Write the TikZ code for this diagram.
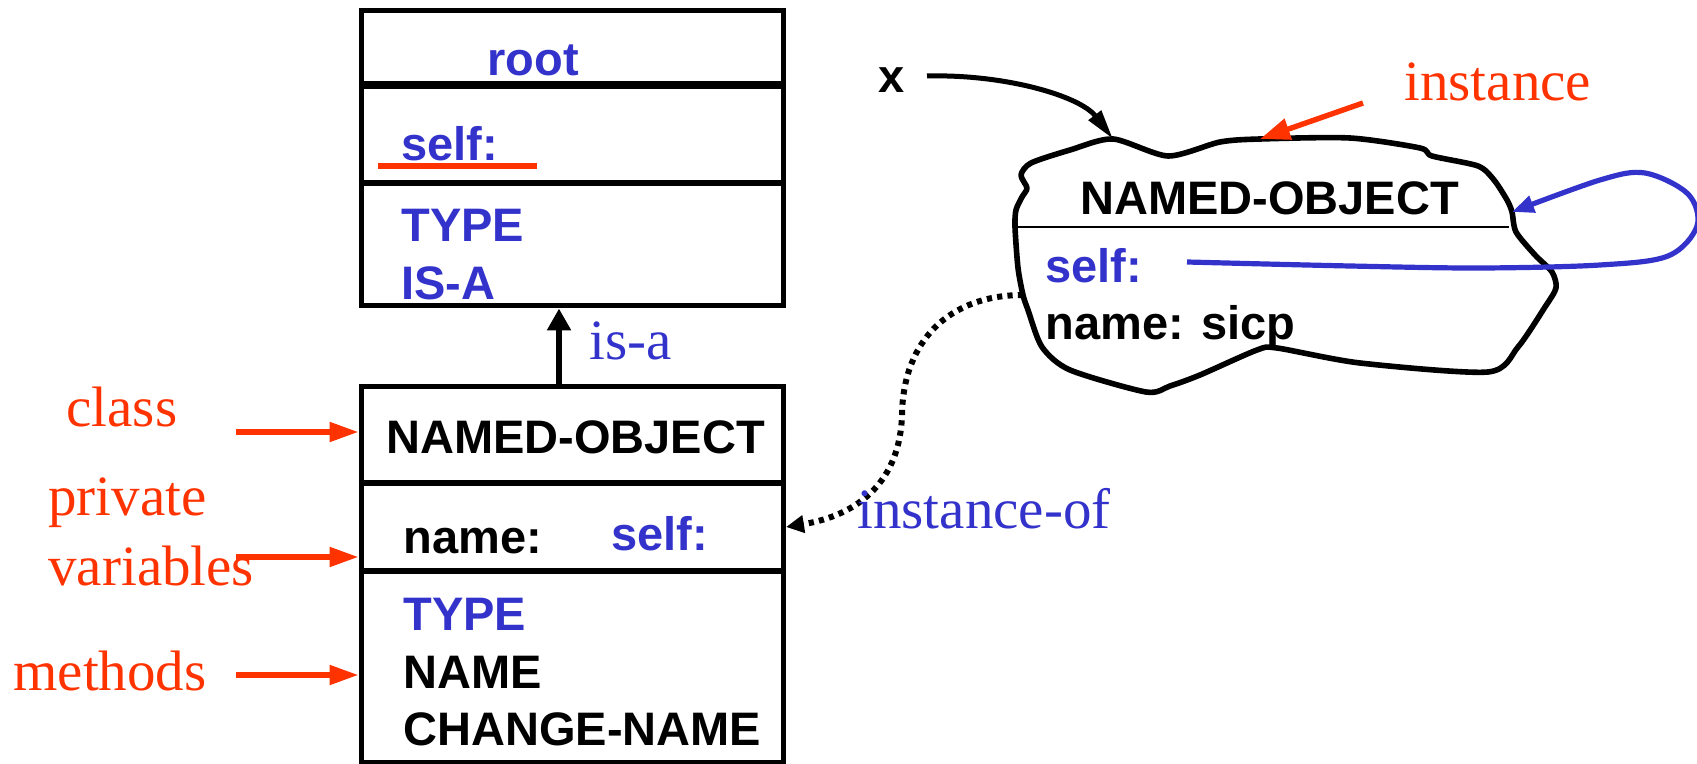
\documentclass[tikz,border=0pt]{standalone}
\usepackage{fontspec}
\setmainfont{Liberation Serif}
\newfontfamily\hv{Liberation Sans}
\usetikzlibrary{arrows.meta,fit}
\definecolor{ink}{RGB}{51,51,204}
\definecolor{notered}{RGB}{255,51,0}
\begin{document}
\begin{tikzpicture}[x=0.5pt,y=-0.5pt,
  word/.style={anchor=base west, inner sep=0pt, font=\hv\bfseries\fontsize{23.5pt}{28pt}\selectfont},
  blueword/.style={word, text=ink},
  redlbl/.style={anchor=base west, inner sep=0pt, text=notered, font=\fontsize{28.5pt}{34pt}\selectfont},
  bluelbl/.style={redlbl, text=ink},
  frame/.style={draw, line width=2.5pt, inner sep=0pt},
  redarrow/.style={draw=notered, line width=2.6pt, -{Triangle[length=14.5pt,width=9.5pt]}},
  blackarrow/.style={draw, line width=2.5pt, -{Triangle[length=15pt,width=7.5pt]}},
  blob/.style={draw, line width=2.8pt, line join=round}
]
\useasboundingbox (0,0) rectangle (1697,764);

% ---------- root class box ----------
\coordinate (r1) at (361,11);
\coordinate (r2) at (783,306);
\node[frame, fit=(r1)(r2)] (rootbox) {};
\draw[line width=4pt] (rootbox.west |- 0,85) -- (rootbox.east |- 0,85);
\draw[line width=2.6pt] (rootbox.west |- 0,183) -- (rootbox.east |- 0,183);
\node[blueword, anchor=base] (rootname) at (533,76) {root};
\node[blueword] (rootself) at (401,161) {self:};
\draw[notered, line width=3pt] (378,166) -- (537,166);
\node[blueword] (roottype) at (401,242) {TYPE};
\node[blueword] (rootisa) at (401,300) {IS-A};

% ---------- NAMED-OBJECT class box ----------
\coordinate (n1) at (361,387);
\coordinate (n2) at (783,762);
\node[frame, fit=(n1)(n2)] (lowbox) {};
\draw[line width=3.4pt] (lowbox.west |- 0,483) -- (lowbox.east |- 0,483);
\draw[line width=3.4pt] (lowbox.west |- 0,571) -- (lowbox.east |- 0,571);
\node[word] (clsname) at (386,453) {NAMED-OBJECT};
\node[word] (clsvar) at (403,553) {name:};
\node[blueword] (clsself) at (611,550) {self:};
\node[blueword] (clstype) at (403,630) {TYPE};
\node[word] (clsnm) at (403,688) {NAME};
\node[word] (clschg) at (403,745) {CHANGE-NAME};

% is-a link
\coordinate (isax) at (559,0);
\draw[line width=3.2pt, -{Triangle[length=11pt,width=11.5pt]}]
  (isax |- lowbox.north) -- (isax |- rootbox.south);
\node[bluelbl] (isalbl) at (589,360) {is-a};

% ---------- annotations on the left ----------
\node[redlbl] (classlbl) at (66,427) {class};
\node[redlbl] (privlbl) at (48,515) {private};
\node[redlbl] (varlbl) at (48,585) {variables};
\node[redlbl] (methlbl) at (13,690) {methods};
\coordinate (t1) at (236,432);
\coordinate (t2) at (236,557);
\coordinate (t3) at (236,675);
\draw[redarrow] (t1) -- (t1 -| lowbox.west);
\draw[redarrow] (t2) -- (t2 -| lowbox.west);
\draw[redarrow] (t3) -- (t3 -| lowbox.west);

% ---------- the instance ----------
\coordinate (peak) at (1113,139);
\coordinate (btop) at (1260,139);
\coordinate (bright) at (1512,212);
\coordinate (bleft) at (1023,295);
\draw[blob] plot[smooth cycle, tension=0.45] coordinates {
  (peak) (1168,156) (1220,142) (btop) (1350,138) (1420,148) (1432,156)
  (1478,166) (1494,180) (1507,200) (bright) (1516,232) (1535,255)
  (1552,272) (1556,288) (1545,307) (1518,347) (1488,372) (1360,363)
  (1277,348) (1257,350) (1200,375) (1170,386) (1146,392) (1070,370)
  (1042,347) (1028,310) (bleft) (1018,268) (1015,227) (1016,210)
  (1022,197) (1027,188) (1021,175) (1031,163) (1070,150)};
\draw[line width=1.1pt] (1015,227) -- (1509,227);
\node[word] (objname) at (1080,215) {NAMED-OBJECT};
\node[blueword] (objself) at (1045,283) {self:};
\node[word] (objvar) at (1045,340) {name: sicp};

% variable x pointing at the instance
\node[word] (xvar) at (878,93) {x};
\coordinate (xstart) at (927,76);
\draw[blackarrow] (xstart) .. controls (1005,74) and (1080,96) .. (peak);

% "instance" annotation
\node[redlbl] (instlbl) at (1404,101) {instance};
\coordinate (t4) at (1363,103);
\draw[draw=notered, line width=2.7pt, -{Triangle[length=15pt,width=10.5pt]}] (t4) -- (btop);

% self pointer loop
\coordinate (loopstart) at (1187,262);
\draw[ink, line width=2.6pt, -{Triangle[length=11pt,width=8.5pt]}]
  plot[smooth, tension=0.55] coordinates {
  (loopstart) (1350,266) (1480,268) (1600,265) (1668,256) (1697,226)
  (1688,194) (1645,173) (1600,180) (bright)};

% instance-of link
\coordinate (ioftip) at (786,527);
\draw[line width=3pt, dash pattern=on 2.6pt off 2.6pt,
      -{Triangle[length=9pt,width=8.5pt]}]
  (bleft) .. controls (950,295) and (903,340) .. (902,415)
          .. controls (900,480) and (860,515) .. (ioftip);
\node[bluelbl] (ioflbl) at (857,528) {instance-of};
\end{tikzpicture}
\end{document}
